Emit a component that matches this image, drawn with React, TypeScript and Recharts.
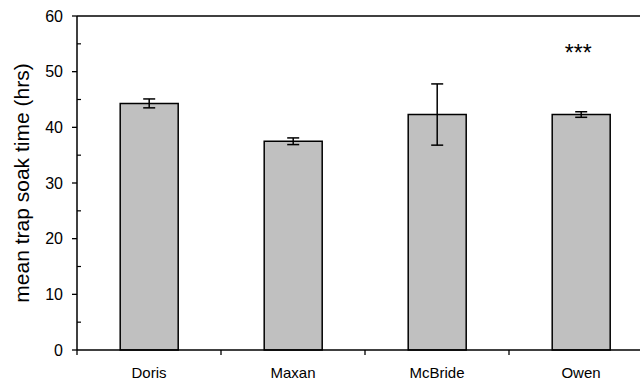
import React from "react";
import {
  BarChart,
  Bar,
  XAxis,
  YAxis,
  ErrorBar,
  LabelList,
  ReferenceLine,
} from "recharts";

// soak time per vessel
const vessels = ["Doris", "Maxan", "McBride", "Owen"];
const meanSoak = [44.3, 37.5, 42.3, 42.3];
const soakErr = [0.8, 0.6, 5.5, 0.5];
const signif = ["", "", "", "***"];
const yTicks = [0, 5, 10, 15, 20, 25, 30, 35, 40, 45, 50, 55, 60];

const data = vessels.map((name, i) => ({
  name,
  mean: meanSoak[i],
  err: soakErr[i],
  sig: signif[i],
}));

const FONT = "'Liberation Sans', Arial, sans-serif";
const CHART_W = 700;
const CHART_H = 383;
const MARGIN = { top: 16, right: 47, bottom: 0, left: 0 };
const Y_W = 77;
const BAND = (CHART_W - MARGIN.left - MARGIN.right - Y_W) / vessels.length;

function YTick(props: any) {
  const { x, y, payload } = props;
  const axisX = x + 14; // tickSize 5 + tickMargin 9
  const major = payload.value % 10 === 0;
  return (
    <g>
      {major ? (
        <>
          <line x1={axisX - 5} x2={axisX} y1={y} y2={y} stroke="#000" strokeWidth={1.3} />
          <text
            x={x}
            y={y}
            dy="0.36em"
            textAnchor="end"
            fontSize={16}
            fontFamily={FONT}
            fill="#000"
          >
            {payload.value}
          </text>
        </>
      ) : (
        <line x1={axisX} x2={axisX + 4} y1={y} y2={y} stroke="#000" strokeWidth={1.2} />
      )}
    </g>
  );
}

function XTick(props: any) {
  const { x, y, payload } = props;
  const axisY = y - 17; // tickSize 5 + tickMargin 12
  const left = x - BAND / 2;
  return (
    <g>
      <line x1={left} x2={left} y1={axisY} y2={axisY + 5} stroke="#000" strokeWidth={1.3} />
      <text
        x={x}
        y={y}
        dy="0.71em"
        textAnchor="middle"
        fontSize={15}
        fontFamily={FONT}
        fill="#000"
      >
        {payload.value}
      </text>
    </g>
  );
}

function SigLabel(props: any) {
  const { x, y, width, value } = props;
  if (!value) return null;
  return (
    <text
      x={x + width / 2 - 3}
      y={y - 54}
      textAnchor="middle"
      fontSize={23}
      fontFamily={FONT}
      fill="#000"
    >
      {value}
    </text>
  );
}

export default function App() {
  return (
    <div
      style={{
        position: "absolute",
        left: 0,
        top: 0,
        width: 640,
        height: CHART_H,
        overflow: "hidden",
        background: "#fff",
      }}
    >
      <BarChart
        width={CHART_W}
        height={CHART_H}
        data={data}
        margin={MARGIN}
        barCategoryGap="30%"
      >
        <XAxis
          dataKey="name"
          height={33}
          tickSize={5}
          tickMargin={12}
          tickLine={false}
          tick={<XTick />}
          axisLine={{ stroke: "#000", strokeWidth: 1.5 }}
          interval={0}
        />
        <YAxis
          width={Y_W}
          domain={[0, 60]}
          ticks={yTicks}
          interval={0}
          tickSize={5}
          tickMargin={9}
          tickLine={false}
          tick={<YTick />}
          axisLine={{ stroke: "#000", strokeWidth: 1.5 }}
          label={{
            value: "mean trap soak time (hrs)",
            angle: -90,
            position: "insideLeft",
            offset: 22,
            style: {
              textAnchor: "middle",
              fontSize: 21,
              fontFamily: FONT,
              fill: "#000",
            },
          }}
        />
        <ReferenceLine y={60} stroke="#000" strokeWidth={1.5} ifOverflow="visible" />
        <Bar
          dataKey="mean"
          fill="#c0c0c0"
          stroke="#000"
          strokeWidth={1.5}
          isAnimationActive={false}
        >
          <ErrorBar dataKey="err" width={6} stroke="#000" strokeWidth={1.5} />
          <LabelList dataKey="sig" content={<SigLabel />} />
        </Bar>
      </BarChart>
    </div>
  );
}
